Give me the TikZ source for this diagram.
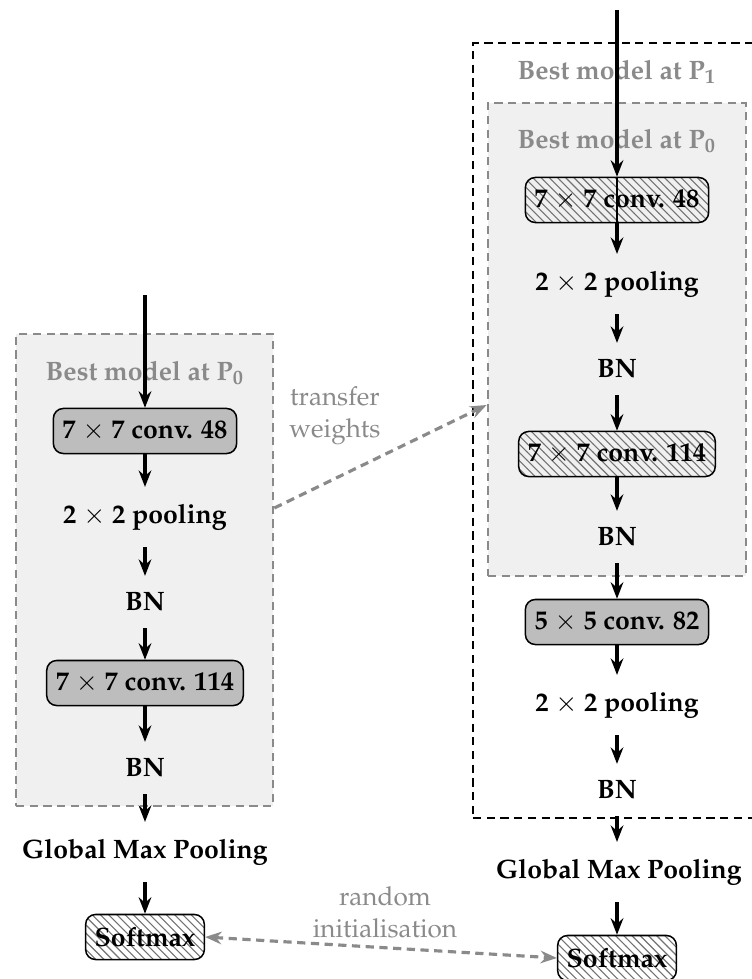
\documentclass[tikz,border=0pt]{standalone}
\usepackage[T1]{fontenc}
\usepackage{mathpazo}
\usetikzlibrary{arrows.meta,patterns}

\definecolor{convfill}{HTML}{BDBDBD}
\definecolor{framefill}{HTML}{F0F0F0}
\definecolor{softgray}{HTML}{8A8A8A}

\tikzset{
  layer/.style={font=\fontsize{9.7}{12}\selectfont\bfseries},
  opname/.style={layer, inner xsep=2pt, inner ysep=6pt},
  blockbox/.style={layer, draw, line width=0.55pt, rounded corners=3.6pt,
    minimum height=16.4pt, inner xsep=3.3pt, inner ysep=2pt},
  convbox/.style={blockbox, fill=convfill},
  hatchbox/.style={blockbox, pattern=north west lines, pattern color=black!55},
  innerframe/.style={draw=softgray, fill=framefill, line width=1pt,
    dash pattern=on 3pt off 2pt, inner sep=0pt},
  outerframe/.style={draw=black, line width=1pt,
    dash pattern=on 3pt off 2pt, inner sep=0pt},
  frametitle/.style={layer, text=softgray},
  flowtip/.tip={Stealth[length=6pt,width=4.6pt,inset=2pt]},
  linktip/.tip={Stealth[length=6pt,width=4.6pt,inset=2pt,color=softgray]},
  flow/.style={line width=1.15pt, -flowtip},
  link/.style={draw=softgray, line width=1.15pt, dash pattern=on 3pt off 2pt},
  note/.style={font=\fontsize{9.5}{11.7}\selectfont, text=softgray, align=center}
}

\begin{document}
\begin{tikzpicture}[x=0.3643pt,y=-0.3643pt]
\useasboundingbox (0,0) rectangle (752,979);
\clip (0,0) rectangle (752,979);

% ---------- frames ----------
\node[outerframe, minimum width=104.9pt, minimum height=282.3pt] (p1) at (617,430.5) {};
\node[innerframe, minimum width=94pt, minimum height=172.3pt] (rp0) at (617,339.5) {};
\node[innerframe, minimum width=93.6pt, minimum height=171.9pt] (lp0) at (144.5,570) {};

\node[frametitle] (p1title) at (617,72) {Best model at P\textsubscript{1}};
\node[frametitle] (rp0title) at (617,141) {Best model at P\textsubscript{0}};
\node[frametitle] (lp0title) at (145,373) {Best model at P\textsubscript{0}};

% ---------- left network ----------
\coordinate (lin) at (145,295);
\node[convbox] (lconv1) at (145,431) {7~$\times$~7 conv. 48};
\node[opname] (lpool) at (145,517) {2~$\times$~2 pooling};
\node[opname] (lbn1) at (145,602) {BN};
\node[convbox] (lconv2) at (145,683) {7~$\times$~7 conv. 114};
\node[opname] (lbn2) at (145,768) {BN};
\node[opname] (lgmp) at (145,852) {Global Max Pooling};
\node[hatchbox] (lsoft) at (145,937) {Softmax};

\draw[flow] (lin) -- (lconv1);
\draw[flow] (lconv1) -- (lpool);
\draw[flow] (lpool) -- (lbn1);
\draw[flow] (lbn1) -- (lconv2);
\draw[flow] (lconv2) -- (lbn2);
\draw[flow] (lbn2) -- (lgmp);
\draw[flow] (lgmp) -- (lsoft);

% ---------- right network ----------
\coordinate (rin) at (617,10);
\node[hatchbox] (rconv1) at (617,200) {7~$\times$~7 conv. 48};
\node[opname] (rpool1) at (617,284) {2~$\times$~2 pooling};
\node[opname] (rbn1) at (617,369) {BN};
\node[hatchbox] (rconv2) at (617,454) {7~$\times$~7 conv. 114};
\node[opname] (rbn2) at (617,537) {BN};
\node[convbox] (rconv3) at (617,622) {5~$\times$~5 conv. 82};
\node[opname] (rpool2) at (617,705) {2~$\times$~2 pooling};
\node[opname] (rbn3) at (617,790) {BN};
\node[opname] (rgmp) at (619,872) {Global Max Pooling};
\node[hatchbox] (rsoft) at (617,958) {Softmax};

\draw[line width=0.5pt] (rconv1.north) -- (rconv1.south);
\draw[flow] (rin) -- (rconv1);
\draw[flow] (rconv1) -- (rpool1);
\draw[flow] (rpool1) -- (rbn1);
\draw[flow] (rbn1) -- (rconv2);
\draw[flow] (rconv2) -- (rbn2);
\draw[flow] (rbn2) -- (rconv3);
\draw[flow] (rconv3) -- (rpool2);
\draw[flow] (rpool2) -- (rbn3);
\draw[flow] (rbn3) -- (rgmp.north -| rbn3);
\draw[flow] (rgmp.south -| rsoft) -- (rsoft);

% ---------- links between the two networks ----------
\draw[link, -linktip] (lp0.east |- 0,508) -- (rp0.west |- 0,405);
\node[note] (transfer) at (335,416) {transfer\\weights};

\draw[link, linktip-linktip] (lsoft.east) -- (rsoft.west);
\node[note] (randinit) at (385,912) {random\\initialisation};
\end{tikzpicture}
\end{document}
